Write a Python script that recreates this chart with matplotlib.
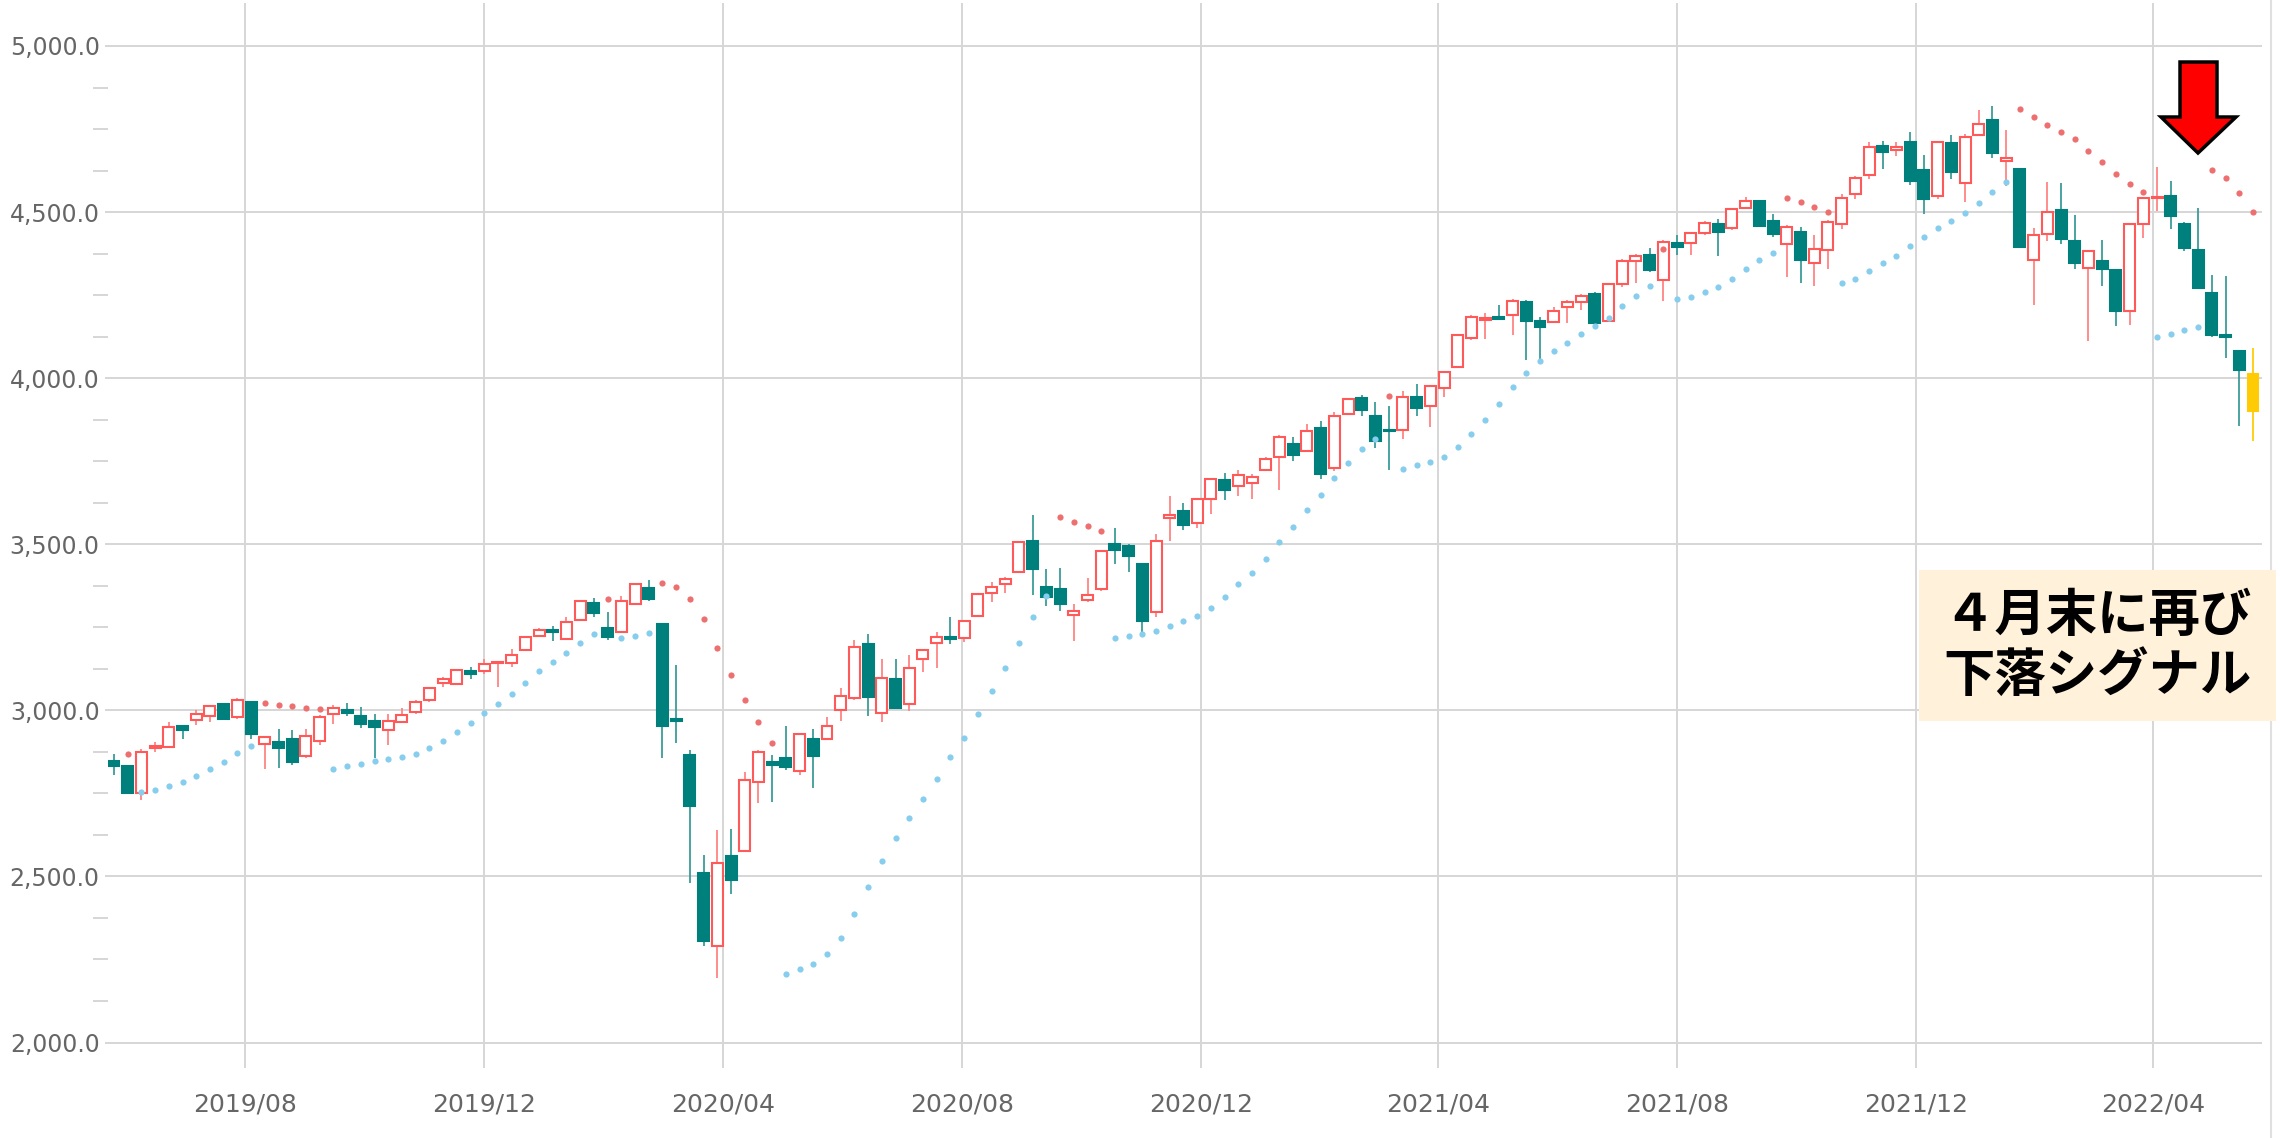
import matplotlib
matplotlib.use("Agg")
import matplotlib.pyplot as plt
import matplotlib.dates as mdates
from matplotlib.ticker import FixedLocator, FuncFormatter
from matplotlib.patches import Rectangle, Polygon
from matplotlib.lines import Line2D
import numpy as np
import pandas as pd

# ---------------- data (weekly candles) ----------------
start_date = "2019-05-26"

opens = [2846, 2832, 2751, 2888, 2891, 2954, 2972, 2982, 3018, 2980,
         3026, 2899, 2904, 2914, 2864, 2909, 2989, 3000, 2984, 2967,
         2942, 2964, 2994, 3032, 3082, 3078, 3117, 3118, 3142, 3142,
         3182, 3225, 3242, 3215, 3271, 3323, 3248, 3236, 3319, 3369,
         3259, 2974, 2866, 2511, 2292, 2560, 2577, 2783, 2843, 2855,
         2816, 2915, 2913, 3001, 3036, 3199, 2993, 3094, 3019, 3154,
         3204, 3221, 3219, 3285, 3353, 3380, 3417, 3511, 3371, 3364,
         3286, 3331, 3366, 3502, 3495, 3441, 3296, 3580, 3599, 3565,
         3635, 3694, 3674, 3684, 3725, 3763, 3803, 3781, 3851, 3731,
         3893, 3941, 3885, 3845, 3843, 3944, 3915, 3971, 4034, 4122,
         4176, 4185, 4191, 4230, 4171, 4169, 4215, 4228, 4252, 4172,
         4283, 4353, 4372, 4295, 4408, 4407, 4436, 4463, 4451, 4513,
         4533, 4474, 4404, 4441, 4348, 4387, 4463, 4553, 4611, 4700,
         4687, 4712, 4628, 4548, 4709, 4588, 4732, 4777, 4655, 4631,
         4357, 4433, 4506, 4413, 4332, 4353, 4325, 4202, 4464, 4541,
         4548, 4464, 4385, 4255, 4129, 4081, 4014]
highs = [2869, 2836, 2884, 2905, 2966, 2956, 3000, 3014, 3020, 3037,
         3028, 2924, 2945, 2940, 2944, 2985, 3016, 3022, 3009, 2990,
         2990, 3006, 3030, 3070, 3100, 3125, 3130, 3155, 3150, 3185,
         3225, 3247, 3255, 3282, 3330, 3337, 3295, 3345, 3384, 3393,
         3260, 3136, 2880, 2565, 2640, 2642, 2815, 2880, 2867, 2954,
         2932, 2945, 2980, 3067, 3211, 3231, 3155, 3156, 3168, 3183,
         3236, 3280, 3272, 3352, 3385, 3400, 3510, 3588, 3425, 3430,
         3320, 3397, 3481, 3550, 3500, 3443, 3530, 3645, 3625, 3640,
         3700, 3713, 3725, 3710, 3762, 3830, 3823, 3863, 3870, 3897,
         3940, 3950, 3928, 3915, 3960, 3983, 3978, 4020, 4130, 4190,
         4195, 4220, 4238, 4235, 4185, 4215, 4235, 4253, 4260, 4285,
         4360, 4375, 4393, 4415, 4430, 4438, 4473, 4479, 4513, 4545,
         4535, 4493, 4461, 4455, 4430, 4475, 4555, 4608, 4712, 4715,
         4712, 4741, 4673, 4712, 4733, 4735, 4808, 4818, 4748, 4633,
         4451, 4592, 4588, 4490, 4386, 4415, 4327, 4466, 4545, 4637,
         4593, 4470, 4513, 4310, 4308, 4083, 4091]
lows = [2806, 2748, 2729, 2876, 2887, 2915, 2955, 2965, 2973, 2975,
        2915, 2822, 2826, 2835, 2855, 2895, 2959, 2983, 2946, 2855,
        2895, 2962, 2990, 3025, 3070, 3075, 3095, 3110, 3070, 3130,
        3180, 3222, 3210, 3213, 3270, 3280, 3212, 3234, 3317, 3330,
        2855, 2903, 2480, 2290, 2195, 2447, 2575, 2720, 2725, 2820,
        2805, 2765, 2911, 2967, 3031, 2983, 2964, 3004, 2998, 3114,
        3128, 3200, 3205, 3283, 3326, 3352, 3415, 3348, 3314, 3300,
        3210, 3325, 3360, 3440, 3415, 3230, 3280, 3510, 3542, 3550,
        3592, 3633, 3646, 3636, 3723, 3664, 3750, 3779, 3695, 3720,
        3890, 3885, 3790, 3723, 3816, 3887, 3852, 3942, 4032, 4115,
        4117, 4175, 4129, 4056, 4051, 4167, 4166, 4206, 4164, 4170,
        4275, 4288, 4320, 4232, 4370, 4372, 4430, 4367, 4447, 4511,
        4456, 4425, 4305, 4287, 4278, 4330, 4450, 4540, 4600, 4630,
        4668, 4583, 4495, 4540, 4600, 4530, 4730, 4663, 4580, 4394,
        4221, 4413, 4403, 4328, 4113, 4278, 4158, 4160, 4422, 4503,
        4448, 4383, 4270, 4123, 4062, 3857, 3810]
closes = [2831, 2751, 2874, 2891, 2950, 2942, 2990, 3012, 2975, 3030,
          2930, 2919, 2887, 2844, 2924, 2981, 3007, 2992, 2959, 2951,
          2969, 2986, 3024, 3067, 3095, 3120, 3110, 3140, 3147, 3168,
          3220, 3242, 3235, 3265, 3329, 3293, 3222, 3328, 3379, 3336,
          2954, 2969, 2711, 2307, 2541, 2488, 2790, 2876, 2836, 2828,
          2930, 2863, 2953, 3043, 3192, 3039, 3096, 3006, 3127, 3181,
          3222, 3215, 3270, 3350, 3372, 3395, 3508, 3425, 3341, 3319,
          3299, 3348, 3479, 3482, 3464, 3269, 3510, 3587, 3557, 3637,
          3697, 3662, 3708, 3702, 3756, 3823, 3768, 3841, 3712, 3885,
          3936, 3903, 3810, 3840, 3944, 3911, 3976, 4019, 4129, 4185,
          4181, 4177, 4233, 4171, 4154, 4203, 4230, 4248, 4166, 4282,
          4353, 4368, 4325, 4411, 4395, 4436, 4468, 4441, 4508, 4533,
          4458, 4433, 4456, 4355, 4390, 4471, 4543, 4604, 4697, 4680,
          4697, 4594, 4538, 4710, 4621, 4725, 4764, 4677, 4664, 4396,
          4431, 4499, 4419, 4348, 4384, 4329, 4203, 4464, 4543, 4546,
          4488, 4391, 4272, 4129, 4124, 4024, 3902]

# Parabolic SAR values (NaN = no value)
sar = [np.nan, 2869, 2754, 2759, 2772, 2784, 2801, 2822, 2844, 2871,
       2892, 3022, 3016, 3012, 3008, 3004, 2823, 2831, 2838, 2846,
       2853, 2859, 2869, 2887, 2909, 2934, 2961, 2993, 3018, 3048,
       3083, 3117, 3145, 3172, 3203, 3230, 3336, 3218, 3223, 3233,
       3383, 3372, 3336, 3274, 3187, 3107, 3032, 2965, 2903, 2207,
       2222, 2235, 2265, 2314, 2386, 2469, 2547, 2615, 2677, 2732,
       2793, 2860, 2918, 2988, 3059, 3127, 3203, 3280, 3343, 3582,
       3567, 3554, 3539, 3218, 3224, 3231, 3238, 3253, 3269, 3283,
       3308, 3341, 3379, 3413, 3455, 3507, 3552, 3602, 3649, 3699,
       3746, 3786, 3818, 3947, 3728, 3738, 3748, 3763, 3793, 3833,
       3875, 3923, 3974, 4016, 4051, 4081, 4106, 4132, 4156, 4181,
       4217, 4248, 4278, 4390, 4237, 4245, 4258, 4275, 4300, 4328,
       4355, 4378, 4541, 4529, 4516, 4501, 4285, 4298, 4322, 4347,
       4368, 4398, 4426, 4451, 4474, 4496, 4528, 4561, 4591, 4809,
       4785, 4762, 4742, 4720, 4684, 4650, 4616, 4586, 4559, 4124,
       4134, 4145, 4155, 4626, 4603, 4558, 4499]
# candle index ranges (inclusive) where the SAR is in down-trend (red dots)
sar_down_runs = [(1, 1), (11, 15), (36, 36), (40, 48), (69, 72), (93, 93),
                 (113, 113), (122, 125), (139, 148), (153, 156)]

x_tick_dates = ["2019-08-01", "2019-12-01", "2020-04-01", "2020-08-01",
                "2020-12-01", "2021-04-01", "2021-08-01", "2021-12-01",
                "2022-04-01"]
x_tick_labels = ["2019/08", "2019/12", "2020/04", "2020/08", "2020/12",
                 "2021/04", "2021/08", "2021/12", "2022/04"]
y_ticks = [2000, 2500, 3000, 3500, 4000, 4500, 5000]

note_text = "４月末に再び\n下落シグナル"

# ---------------- styling ----------------
W, H = 2280, 1138
fig = plt.figure(figsize=(W / 100, H / 100), dpi=100)
fig.patch.set_facecolor("white")

ax_l, ax_r, ax_t, ax_b = 108, 2262, 3, 1068
ax = fig.add_axes([ax_l / W, 1 - ax_b / H, (ax_r - ax_l) / W, (ax_b - ax_t) / H])

TEAL = "#00807c"
TEAL_WICK = "#3c9c98"
RED = "#ff5a5a"
RED_WICK = "#ff8585"
YELLOW = "#ffcb05"
DOT_RED = "#ee6f6f"
DOT_BLUE = "#86cdee"
GRID = "#d6d6d6"

dates = pd.date_range(start_date, periods=len(opens), freq="7D")
xs = mdates.date2num(dates)
o = np.array(opens, float)
h = np.array(highs, float)
l = np.array(lows, float)
c = np.array(closes, float)
n = len(o)

body_w = 5.6  # days
min_h = 5.0

for i in range(n):
    last = (i == n - 1)
    up = c[i] >= o[i]
    if last:
        wc, fc, ec = YELLOW, YELLOW, YELLOW
    elif up:
        wc, fc, ec = RED_WICK, "white", RED
    else:
        wc, fc, ec = TEAL_WICK, TEAL, TEAL
    ax.vlines(xs[i], l[i], h[i], color=wc, lw=1.3, zorder=2)
    bot = min(o[i], c[i])
    hh = max(abs(c[i] - o[i]), min_h)
    ax.add_patch(Rectangle((xs[i] - body_w / 2, bot), body_w, hh,
                           facecolor=fc, edgecolor=ec, lw=1.5, zorder=3))

sar_arr = np.array(sar, float)
down = np.zeros(n, bool)
for a, b in sar_down_runs:
    down[a:b + 1] = True
ax.scatter(xs[down], sar_arr[down], s=20, color=DOT_RED, zorder=4, linewidths=0)
ax.scatter(xs[~down], sar_arr[~down], s=20, color=DOT_BLUE, zorder=4, linewidths=0)

# axes limits
px_per_day = 13.71 / 7
ax.set_xlim(xs[0] - (114 - ax_l) / px_per_day, xs[-1] + (ax_r - 2253) / px_per_day)
px_per_unit = (1042.5 - 46) / 3000
ax.set_ylim(2000 - (ax_b - 1042.5) / px_per_unit, 5000 + (46 - ax_t) / px_per_unit)

ax.set_xticks(mdates.date2num(pd.to_datetime(x_tick_dates)))
ax.set_xticklabels(x_tick_labels)
ax.set_yticks(y_ticks)
ax.yaxis.set_major_formatter(FuncFormatter(lambda v, p: f"{v:,.1f}"))
minor = [v for v in np.arange(2000, 5001, 125) if v % 500 != 0]
ax.yaxis.set_minor_locator(FixedLocator(minor))

ax.grid(True, which="major", color=GRID, lw=1.4, zorder=0)
ax.set_axisbelow(True)
for s in ax.spines.values():
    s.set_visible(False)
ax.tick_params(axis="x", length=0, pad=18, labelsize=18, labelcolor="#666666")
ax.tick_params(axis="y", which="major", length=2, color=GRID, width=1.4,
               pad=4, labelsize=17, labelcolor="#666666")
ax.tick_params(axis="y", which="minor", length=11, color=GRID, width=1.4)

# right border line
fig.add_artist(Line2D([2271 / W, 2271 / W], [0, 1], color="#e0e0e0", lw=1.5))

# annotation box
bx0, bx1, by0, by1 = 1919, 2276, 570, 721
fig.add_artist(Rectangle((bx0 / W, 1 - by1 / H), (bx1 - bx0) / W, (by1 - by0) / H,
                         transform=fig.transFigure, facecolor="#fff1da",
                         edgecolor="none", zorder=5))
fig.text((bx0 + bx1) / 2 / W, 1 - (by0 + by1) / 2 / H, note_text,
         ha="center", va="center", fontsize=37, fontweight="bold",
         family=["Noto Sans CJK JP", "DejaVu Sans"], color="black",
         linespacing=1.15, zorder=6)

# red down arrow
arrow_px = [(2180, 62), (2217, 62), (2217, 117), (2236, 117), (2198, 153),
            (2161, 117), (2180, 117)]
fig.add_artist(Polygon([(x / W, 1 - y / H) for x, y in arrow_px], closed=True,
                       transform=fig.transFigure, facecolor="#ff0000",
                       edgecolor="black", lw=2.5, zorder=6))

fig.savefig("out.png", dpi=100)
